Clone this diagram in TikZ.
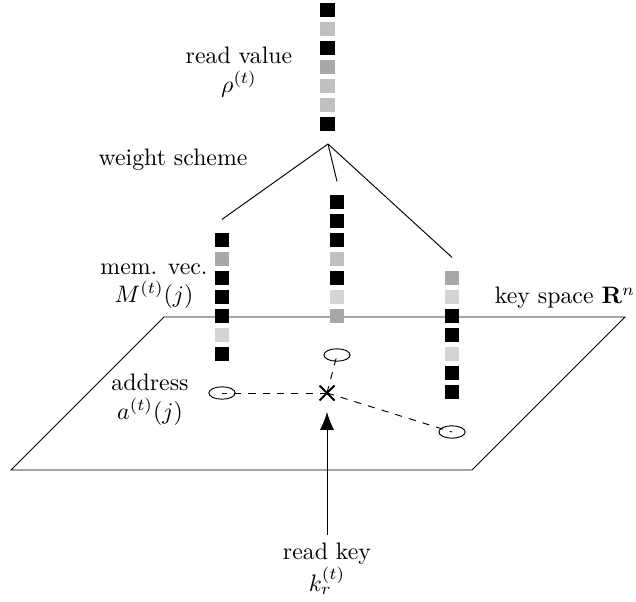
\documentclass[tikz,border=0pt]{standalone}
\usetikzlibrary{arrows.meta,shapes.geometric,shapes.misc}
\definecolor{mgray}{HTML}{A8A8A8}
\definecolor{lgray}{HTML}{C0C0C0}
\definecolor{vlgray}{HTML}{D5D5D5}
\tikzset{cell/.style={rectangle,fill=#1,inner sep=0pt,minimum size=5.9pt},
  addr/.style={ellipse,draw,inner sep=0pt,minimum width=11pt,minimum height=5.2pt},
  lab/.style={align=center}}
\begin{document}
\begin{tikzpicture}[x=0.42pt,y=-0.42pt]
\useasboundingbox (0,0) rectangle (636,602);
\draw (11,470) -- (472,470) -- (625,317) -- (164,317) -- cycle; % key space plane
\node[lab] (ks) at (565,298) {key space $\mathbf{R}^n$};
%\draw[red] (0,0) rectangle (636,602);
\node[lab] (rv) at (239,72) {read value\\$\rho^{(t)}$};
\node[lab] (ws) at (173,160) {weight scheme};
\node[lab] (mv) at (154,286) {mem. vec.\\$M^{(t)}(j)$};
\node[lab] (ad) at (150,400) {address\\$a^{(t)}(j)$};
\node[lab] (rk) at (327,569) {read key\\$k_r^{(t)}$};
\foreach \c [count=\i] in {black,lgray,black,mgray,lgray,lgray,black} % edit here for the read value
\node[cell=\c] (rho\i) at (327.5,{-9+19*\i}) {};
\foreach \c [count=\i] in {black,mgray,black,black,black,vlgray,black} % edit here for the memory
\node[cell=\c] (memA\i) at (222,{221+19*\i}) {};
\foreach \c [count=\i] in {black,black,black,lgray,black,vlgray,mgray}
\node[cell=\c] (memB\i) at (337,{183+19*\i}) {};
\foreach \c [count=\i] in {mgray,vlgray,black,black,vlgray,black,black}
\node[cell=\c] (memC\i) at (452,{259+19*\i}) {};
\coordinate (apex) at (328,144);
\foreach \m in {memA1,memB1,memC1}
\draw (apex) -- ([yshift=5.5pt]\m.north);
\node[addr] (a1) at (222,393) {};
\node[addr] (a2) at (337,355) {};
\node[addr] (a3) at (452,432) {};
\node[cross out,draw,thick,minimum size=5.5pt,inner sep=0pt] (k) at (327,393) {};
\foreach \a in {a1,a2,a3}
\draw[dashed] (k.center) -- (\a.center);
\draw[-{Latex[length=7.5pt,width=6pt]},shorten >=8pt] (rk.north) -- (k.center);
\end{tikzpicture}
\end{document}
